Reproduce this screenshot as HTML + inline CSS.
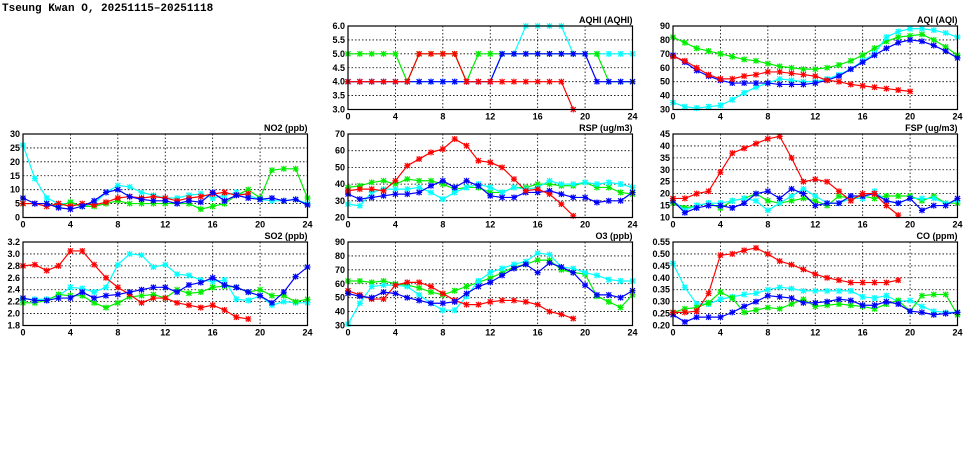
<!DOCTYPE html>
<html><head><meta charset="utf-8"><style>
html,body{margin:0;padding:0;background:#fff;}
svg text{font-family:"Liberation Sans",sans-serif;font-weight:bold;font-size:9px;fill:#000;}
</style></head><body>
<svg id="s" width="975" height="447" xmlns="http://www.w3.org/2000/svg">
<text x="2" y="11" style="font-family:'Liberation Mono',monospace;font-size:11px;font-weight:bold">Tseung Kwan O, 20251115–20251118</text>
</svg>
<script>
const S=document.getElementById('s');
const C={r:'#ff0000',g:'#00ee00',c:'#00ffff',b:'#0000ff'};
const P=[
{t:'AQHI (AQHI)',x:348,y:26,min:3,max:6,st:0.5,d:1,s:{
c:[4,4,4,4,4,4,4,4,4,4,4,4,4,5,5,6,6,6,6,5,5,5,5,5,5],
g:[5,5,5,5,5,4,5,5,5,5,4,5,5,5,5,5,5,5,5,5,5,5,4,4,4],
b:[4,4,4,4,4,4,4,4,4,4,4,4,4,5,5,5,5,5,5,5,5,4,4,4,4],
r:[4,4,4,4,4,4,5,5,5,5,4,4,4,4,4,4,4,4,4,3]}},
{t:'AQI (AQI)',x:673,y:26,min:30,max:90,st:10,d:0,s:{
g:[82,78,74,72,70,68,66,65,63,61,60,59,59,60,62,65,69,74,79,82,83,84,80,75,69],
c:[35,32,31,32,33,37,42,46,49,52,51,50,50,52,55,59,65,70,82,86,88,88,87,85,82],
b:[69,64,58,54,51,49,49,49,49,48,48,48,49,51,54,59,64,69,74,78,80,79,76,72,67],
r:[68,65,60,55,52,52,54,55,57,57,56,55,54,51,50,48,47,46,45,44,43]}},
{t:'NO2 (ppb)',x:23,y:134,min:0,max:30,st:5,d:0,s:{
c:[26,14,7,5,5,4,5,9,11.5,11,9,8,7,7,8,8.5,7,8,9,8,6.5,6,6,6.5,5],
g:[5,5,5,4,5.5,4,4,5,6,5,5,5,5,5,5,3,4,5,8,10,7,17,17.5,17.5,7],
r:[5,5,4,5,4,5,4.5,5.5,7,7.5,7,7.5,7,6,7,7.5,8.5,9,8,8.5],
b:[7,5,5,3.5,3,4,6,9,10,7.5,6.5,6,6,5,6,5.5,9,6,8,7,6.5,7,6,6.5,4.5]}},
{t:'RSP (ug/m3)',x:348,y:134,min:20,max:70,st:10,d:0,s:{
g:[38,39,41,42,40,43,42,42,40,37,38,38,35,35,38,38,40,40,39,39,41,38,38,35,34],
c:[28,27,35,37,37,37,38,35,31,35,38,40,38,35,38,37,38,42,40,40,41,40,41,40,38],
b:[34,31,32,33,34,34,35,39,42,38,42,39,33,32,32,35,35,36,34,32,32,29,30,30,35],
r:[36,37,37,36,42,51,55,59,61,67,63,54,53,50,43,36,37,34,28,21]}},
{t:'FSP (ug/m3)',x:673,y:134,min:10,max:45,st:5,d:0,s:{
g:[16,14,15,16,14,17,18,20,17,16,17,18,17,15,19,18,19,18,19,19,19,17,19,16,16],
c:[17,13,15,16,16,17,18,17,13,16,19,22,19,16,16,18,18,21,17,16,18,18,18,16,17],
b:[17,12,14,15,15,14,16,20,21,18,22,20,15,16,16,19,19,20,17,16,18,13,15,15,18],
r:[18,18,20,21,29,37,39,41,43,44,35,25,26,25,21,17,20,20,15,11]}},
{t:'SO2 (ppb)',x:23,y:242,min:1.8,max:3.2,st:0.2,d:1,s:{
c:[2.24,2.24,2.24,2.3,2.44,2.42,2.36,2.44,2.82,3.0,2.98,2.78,2.82,2.66,2.64,2.56,2.54,2.56,2.24,2.22,2.3,2.14,2.2,2.18,2.18],
g:[2.18,2.18,2.22,2.32,2.3,2.3,2.18,2.1,2.18,2.28,2.3,2.32,2.26,2.4,2.34,2.36,2.44,2.46,2.44,2.36,2.4,2.3,2.3,2.2,2.24],
r:[2.8,2.82,2.72,2.8,3.05,3.05,2.82,2.6,2.44,2.32,2.18,2.26,2.26,2.18,2.14,2.1,2.14,2.06,1.94,1.91],
b:[2.26,2.22,2.22,2.26,2.26,2.36,2.26,2.3,2.32,2.36,2.4,2.44,2.44,2.36,2.48,2.52,2.6,2.48,2.44,2.36,2.3,2.18,2.36,2.62,2.78]}},
{t:'O3 (ppb)',x:348,y:242,min:30,max:90,st:10,d:0,s:{
g:[62,62,61,62,60,59,57,54,52,55,58,61,64,68,72,74,77,77,70,68,67,51,47,43,52],
c:[31,46,58,59,59,58,52,46,41,41,51,62,68,71,74,76,82,81,72,71,68,66,63,62,62],
r:[55,52,49,49,59,61,61,58,53,48,45,45,47,48,48,47,45,40,38,35],
b:[53,51,50,54,53,50,48,46,46,47,53,58,61,66,71,74,68,75,72,68,59,52,52,50,55]}},
{t:'CO (ppm)',x:673,y:242,min:0.2,max:0.55,st:0.05,d:2,s:{
c:[.46,.36,.29,.29,.31,.32,.33,.335,.35,.36,.355,.345,.345,.345,.345,.345,.32,.315,.325,.3,.305,.28,.26,.255,.255],
g:[.255,.27,.275,.295,.34,.315,.255,.265,.275,.27,.29,.31,.28,.285,.29,.285,.28,.27,.29,.305,.26,.325,.33,.33,.245],
b:[.245,.215,.235,.235,.235,.255,.28,.3,.325,.32,.315,.295,.295,.3,.31,.305,.285,.285,.3,.29,.26,.255,.245,.25,.255],
r:[.255,.255,.26,.335,.495,.5,.515,.525,.5,.47,.455,.435,.415,.4,.39,.38,.38,.38,.38,.39]}}
];
let h='';const W=284.5,H=83.5;
for(const p of P){
 const X=i=>p.x+i*W/24, Y=v=>p.y+H-(v-p.min)/(p.max-p.min)*H;
 const n=Math.round((p.max-p.min)/p.st);
 for(let k=0;k<=n;k++){const v=p.min+k*p.st,y=Y(v);
  if(k>0&&k<n)h+=`<line x1="${p.x}" x2="${p.x+W}" y1="${y}" y2="${y}" stroke="#000" stroke-width="0.8" stroke-dasharray="1.5,2"/>`;
  h+=`<text x="${p.x-3}" y="${y+3}" text-anchor="end">${v.toFixed(p.d)}</text>`;}
 for(let i=0;i<=24;i+=4){const x=X(i);
  if(i>0&&i<24)h+=`<line x1="${x}" x2="${x}" y1="${p.y}" y2="${p.y+H}" stroke="#000" stroke-width="0.8" stroke-dasharray="1.5,2"/>`;
  h+=`<text x="${x}" y="${p.y+H+10}" text-anchor="middle">${i}</text>`;}
 h+=`<text x="${p.x+W}" y="${p.y-3}" text-anchor="end">${p.t}</text>`;
 for(const k of Object.keys(p.s)){const a=p.s[k],col=C[k];
  h+=`<polyline fill="none" stroke="${col}" stroke-width="1.2" points="${a.map((v,i)=>X(i)+','+Y(v)).join(' ')}"/>`;
  for(let i=0;i<a.length;i++){const x=X(i),y=Y(a[i]);
   h+=`<path d="M${x-2.5} ${y-2.5}L${x+2.5} ${y+2.5}M${x-2.5} ${y+2.5}L${x+2.5} ${y-2.5}M${x-3} ${y}H${x+3}M${x} ${y-3}V${y+3}" stroke="${col}" stroke-width="1.2"/>`;}
 }
 h+=`<rect x="${p.x}" y="${p.y}" width="${W}" height="${H}" fill="none" stroke="#000" stroke-width="1.2"/>`;
}
S.insertAdjacentHTML('beforeend',h);
</script>
</body></html>
